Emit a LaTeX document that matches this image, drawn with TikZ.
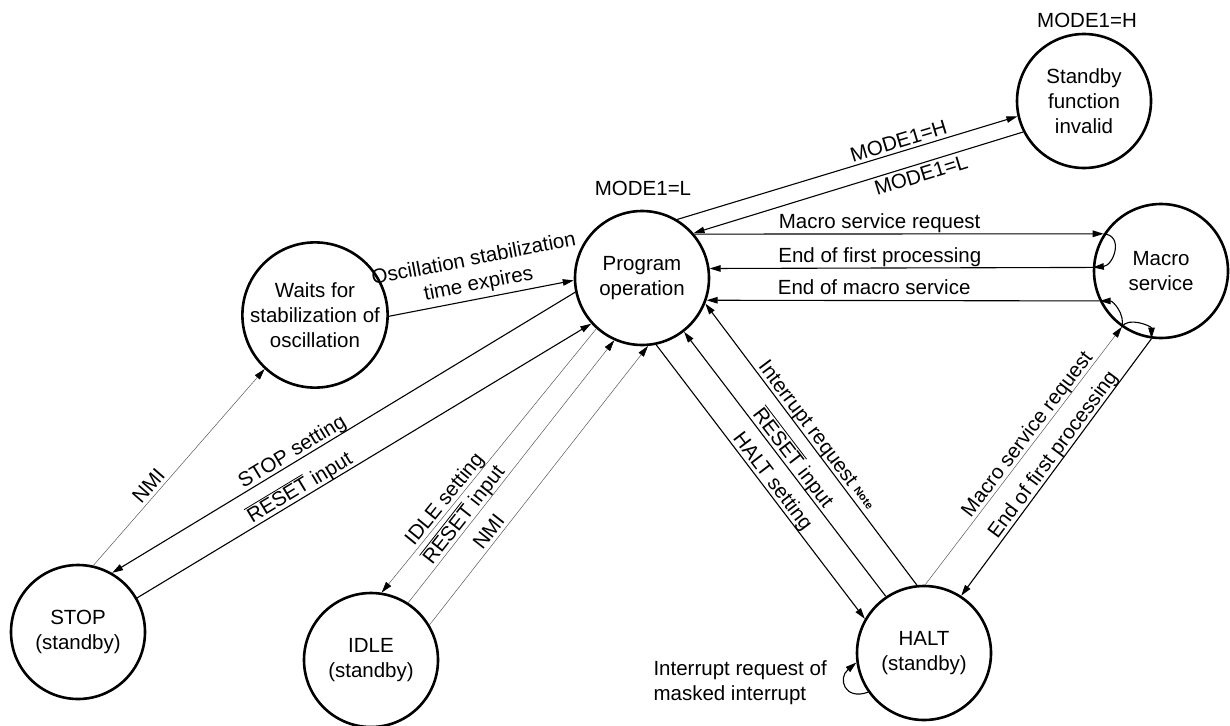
\documentclass[tikz,border=0pt]{standalone}
\usepackage{fontspec}
\setmainfont{Liberation Sans}
\usetikzlibrary{arrows.meta}
\newcommand\myovl[1]{\leavevmode\setbox0=\hbox{#1}\rlap{\rule[\dimexpr\ht0+1.5pt\relax]{\wd0}{0.8pt}}\box0\relax}
\begin{document}
\begin{tikzpicture}[x=1pt,y=-1pt,
  >={Triangle[length=11pt,width=6.5pt,color=black]},
  every node/.style={font=\fontsize{20.5}{25}\selectfont},
  state/.style={draw, circle, line width=2.6pt, minimum size=134pt, inner sep=0pt, align=center},
  conn/.style={line width=1.1pt},
  faint/.style={line width=0.5pt, draw=black!65},
  la/.style={sloped, anchor=base, yshift=4pt},
  lb/.style={sloped, below},
  hl/.style={anchor=base west, yshift=6pt, inner sep=0pt}]
\useasboundingbox (0,0) rectangle (1230,725);

% states
\node[state] (P) at (642,278) {Program\\operation};
\node[state] (M) at (1161,271) {Macro\\service};
\node[state] (S) at (1084,101) {Standby\\function\\invalid};
\node[state] (W) at (315,315) {Waits for\\stabilization of\\oscillation};
\node[state] (T) at (78,632) {STOP\\(standby)};
\node[state] (I) at (371,660) {IDLE\\(standby)};
\node[state] (H) at (924,653) {HALT\\(standby)};

% annotations
\node (modeL) at (643,188) {MODE1=L};
\node (modeH) at (1087,20) {MODE1=H};

% Program <-> Standby function invalid
\draw[conn,->] (P.59.5) -- node[la,pos=.66] {MODE1=H} (S.193.4);
\draw[conn,<-] (P.41) -- node[lb,pos=.68] {MODE1=L} (S.207.7);

% Program <-> Macro service
\draw[conn,->] (P.40) -- node[hl,pos=.205] {Macro service request} (M.147);
\draw[conn,<-] (P.8.6) -- node[hl,pos=.178] {End of first processing} (M.177.4);
\draw[conn,<-] (P.-19.2) -- node[hl,pos=.18] {End of macro service} (M.206.1);
\draw[conn,->] (M.147) to[out=-5,in=5,looseness=1.5] (M.177.4);
\draw[conn,->] (M.235) to[out=75,in=0] (M.206.1);
\draw[conn,->] (M.235) to[out=60,in=90] (M.262);

% HALT <-> Macro service
\draw[faint,->] (H.89) -- node[la,pos=.56] {Macro service request} (M.235);
\draw[conn,<-] (H.57.7) -- node[la,pos=.525] {End of first processing} (M.262);

% Program <-> HALT
\draw[conn,->] (P.-78.7) -- node[la,pos=.52] {HALT setting} (H.150);
\draw[conn,<-] (P.-52.3) -- node[la,pos=.5] {\myovl{RESET} input} (H.124.9);
\draw[conn,<-] (P.-22) -- node[la,pos=.49] {Interrupt request~\raisebox{2pt}{\fontsize{11}{11}\selectfont\bfseries Note}} (H.96);
\draw[conn,->] (H.215) to[out=200,in=220,looseness=2] (H.188);
\node[align=left, anchor=west] (masked) at (650,683) {Interrupt request of\\masked interrupt};

% Wait -> Program
\draw[conn,->] (W.-1.7) -- node[sloped, above, align=center, inner sep=4pt, pos=.5] {Oscillation stabilization\\time expires} (P.182);

% STOP
\draw[conn,<-] (T.60.6) -- node[la,pos=.4] {STOP setting} (P.192.6);
\draw[conn,->] (T.30.3) -- node[la,pos=.37] {\myovl{RESET} input} (P.222);
\draw[faint,->] (T.77.4) -- node[la,pos=.37] {NMI} (W.227.3);

% IDLE
\draw[faint,<-] (I.81) -- node[la,pos=.33] {IDLE setting} (P.228);
\draw[faint,->] (I.57) -- node[la,pos=.31] {\myovl{RESET} input} (P.246.6);
\draw[faint,->] (I.31) -- node[la,pos=.31] {NMI} (P.275);
\end{tikzpicture}
\end{document}
